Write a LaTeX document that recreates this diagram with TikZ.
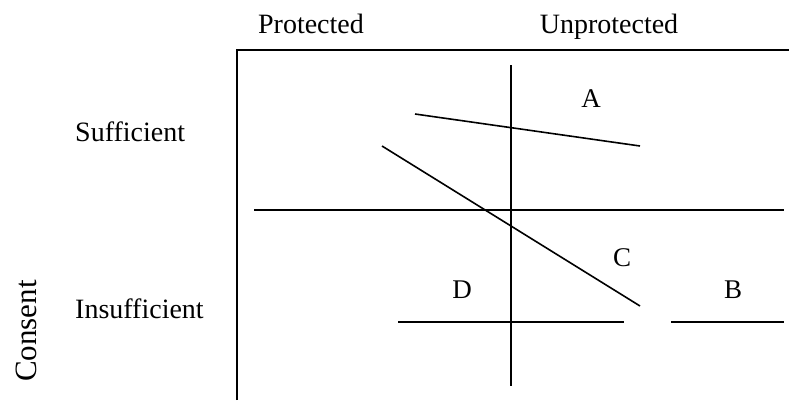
\documentclass[tikz,border=0pt]{standalone}
\usepackage{fontspec}
\setmainfont{Liberation Serif}
\usepackage{tikz}
\usetikzlibrary{positioning}

\begin{document}
\begin{tikzpicture}[x=1pt, y=-1pt, line cap=butt]
  \tikzstyle{frame} = [line width=2.4pt]
  \tikzstyle{axis} = [line width=1.6pt]
  \tikzstyle{label} = [font=\fontsize{28}{34}\selectfont, inner sep=0pt]
  \tikzstyle{region} = [font=\fontsize{27}{32}\selectfont, inner sep=0pt, anchor=base]
  \useasboundingbox (0,0) rectangle (789,400);

  % frame, open to the right and the bottom
  \coordinate (fbot) at (237,400);
  \coordinate (fcorner) at (237,50);
  \coordinate (fright) at (789,50);
  \draw[frame] (fbot) -- (fcorner) -- (fright);

  % column and row labels
  \node[label, anchor=base] (prot) at (311,33) {Protected};
  \node[label, anchor=base] (unprot) at (609,33) {Unprotected};
  \node[label, anchor=base west] (suff) at (75,141) {Sufficient};
  \node[label, anchor=base west] (insuff) at (75,318) {Insufficient};
  \node[label, font=\fontsize{31}{36}\selectfont, rotate=90, anchor=base] (consent) at (36,331) {Consent};

  % axes
  \coordinate (vtop) at (511,65);
  \coordinate (vbot) at (511,386);
  \coordinate (hleft) at (254,210);
  \coordinate (hright) at (784,210);
  \draw[axis] (vtop) -- (vbot);
  \draw[axis] (hleft) -- (hright);

  % curves
  \coordinate (a1) at (415,114);
  \coordinate (a2) at (640,146);
  \coordinate (c1) at (382,146);
  \coordinate (c2) at (640,306);
  \draw[axis] (a1) -- (a2);
  \draw[axis] (c1) -- (c2);

  % lower lines
  \coordinate (d1) at (398,322);
  \coordinate (d2) at (624,322);
  \coordinate (b1) at (671,322);
  \coordinate (b2) at (784,322);
  \draw[axis] (d1) -- (d2);
  \draw[axis] (b1) -- (b2);

  % region letters
  \node[region] (la) at (591,107) {A};
  \node[region] (lc) at (622,266) {C};
  \node[region] (ld) at (462,298) {D};
  \node[region] (lb) at (733,298) {B};
\end{tikzpicture}
\end{document}
